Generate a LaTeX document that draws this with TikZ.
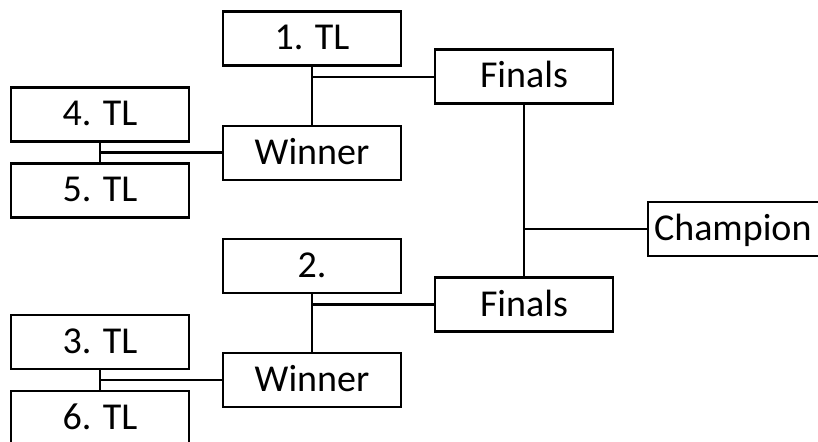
\documentclass[tikz,border=0pt]{standalone}
\usepackage{fontspec}
\setmainfont{Carlito}
\usetikzlibrary{calc}
\begin{document}
\begin{tikzpicture}[x=0.75pt,y=-0.75pt,
  team/.style={draw, line width=1.6pt, minimum width=178*0.75pt, minimum height=54*0.75pt,
    inner sep=0pt, text height=23*0.75pt, text depth=0pt, font=\fontsize{28.5}{30}\selectfont},
  champ/.style={team, anchor=west, minimum width=200*0.75pt, text width=188*0.75pt, inner xsep=6*0.75pt, align=left},
  link/.style={line width=1.6pt}]
\clip (0,0) rectangle (818,442);
\useasboundingbox (0,0) rectangle (818,442);
\node[team] (t1) at (312,38.5) {1. TL};
\node[team] (t4) at (100,114.5) {4. TL};
\node[team] (t5) at (100,190.5) {5. TL};
\node[team] (w1) at (312,153) {Winner};
\node[team] (f1) at (524,76.5) {Finals};
\node[team] (t2) at (312,266) {2.};
\node[team] (t3) at (100,342) {3. TL};
\node[team] (t6) at (100,418) {6. TL};
\node[team] (w2) at (312,380) {Winner};
\node[team] (f2) at (524,304.5) {Finals};
\node[champ] (ch) at (647,229) {Champion};
% round 1
\draw[link] (t4.south) -- (t5.north);
\coordinate (j45) at ($(t4.south)!0.5!(t5.north)$);
\draw[link] (j45) -- (w1.west |- j45);
\draw[link] (t3.south) -- (t6.north);
\coordinate (j36) at ($(t3.south)!0.5!(t6.north)$);
\draw[link] (j36) -- (w2.west |- j36);
% semis
\draw[link] (t1.south) -- (w1.north);
\coordinate (j1w) at ($(t1.south)!0.18!(w1.north)$);
\draw[link] (j1w) -- (f1.west |- j1w);
\draw[link] (t2.south) -- (w2.north);
\coordinate (j2w) at ($(t2.south)!0.18!(w2.north)$);
\draw[link] (j2w) -- (f2.west |- j2w);
% final
\draw[link] (f1.south) -- (f2.north);
\draw[link] (f1.south |- ch.west) -- (ch.west);
\end{tikzpicture}
\end{document}
